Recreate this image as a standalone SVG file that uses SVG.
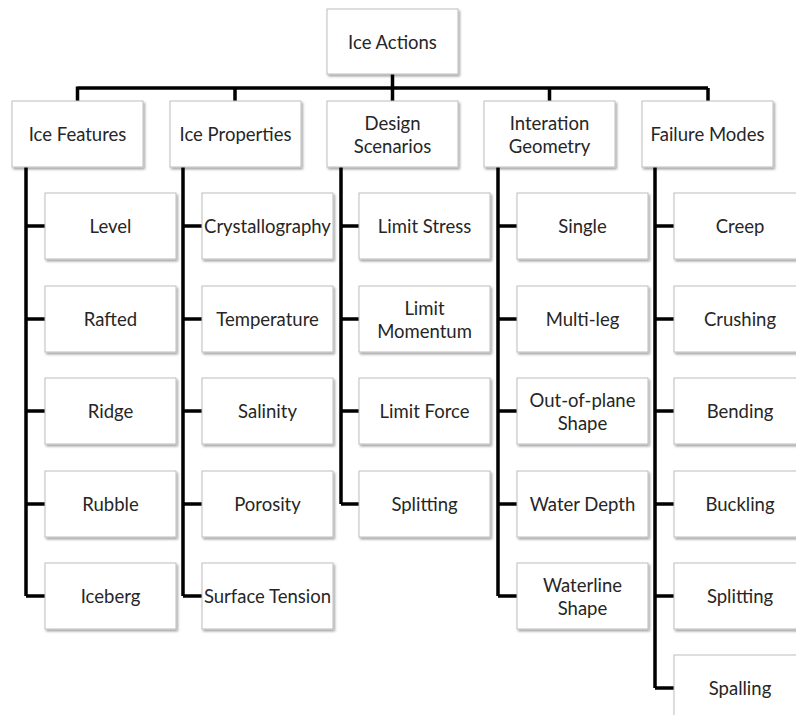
<svg xmlns="http://www.w3.org/2000/svg" width="796" height="715" viewBox="0 0 796 715">
<defs>
<filter id="sh" x="-10%" y="-10%" width="130%" height="140%">
<feDropShadow dx="1.5" dy="2" stdDeviation="1.2" flood-color="#000" flood-opacity="0.35"/>
</filter>
<style>
.b{fill:#fff;stroke:#bdbdbd;stroke-width:1;filter:url(#sh)}
.t{font-family:Lato,"Open Sans","Liberation Sans",sans-serif;font-size:18.5px;fill:#262626;text-anchor:middle;dominant-baseline:central}
.c{stroke:#000;stroke-width:3.5;fill:none}
</style>
</defs>
<rect width="796" height="715" fill="#fff"/>
<g id="connectors">
<path class="c" d="M392.5 74V88M77.5 88H708M77.5 86.5V101M235 88V101M392.5 88V101M549.5 88V101M708 88V101"/>
<path class="c" d="M26 167V596M26 226H45M26 319H45M26 411H45M26 504H45M26 596H45"/>
<path class="c" d="M183 167V596M183 226H202M183 319H202M183 411H202M183 504H202M183 596H202"/>
<path class="c" d="M341 167V504M341 226H359M341 319H359M341 411H359M341 504H359"/>
<path class="c" d="M498 167V596M498 226H517M498 319H517M498 411H517M498 504H517M498 596H517"/>
<path class="c" d="M655 167V688M655 226H674M655 319H674M655 411H674M655 504H674M655 596H674M655 688H674"/>
</g>
<g id="root"><rect class="b" x="327" y="9" width="131" height="65"/><text class="t" x="392.5" y="41.5">Ice Actions</text></g>
<g id="ice-features"><rect class="b" x="12" y="101" width="131" height="66"/><text class="t" x="77.5" y="134">Ice Features</text></g>
<g id="ice-properties"><rect class="b" x="170" y="101" width="131" height="66"/><text class="t" x="235.5" y="134">Ice Properties</text></g>
<g id="design-scenarios"><rect class="b" x="327" y="101" width="131" height="66"/><text class="t" x="392.5" y="123">Design</text><text class="t" x="392.5" y="145.5">Scenarios</text></g>
<g id="interation-geometry"><rect class="b" x="484" y="101" width="131" height="66"/><text class="t" x="549.5" y="123">Interation</text><text class="t" x="549.5" y="145.5">Geometry</text></g>
<g id="failure-modes"><rect class="b" x="642" y="101" width="131" height="66"/><text class="t" x="707.5" y="134">Failure Modes</text></g>

<g id="level"><rect class="b" x="45" y="193" width="131" height="66"/><text class="t" x="110.5" y="226">Level</text></g>
<g id="rafted"><rect class="b" x="45" y="286" width="131" height="66"/><text class="t" x="110.5" y="319">Rafted</text></g>
<g id="ridge"><rect class="b" x="45" y="378" width="131" height="66"/><text class="t" x="110.5" y="411">Ridge</text></g>
<g id="rubble"><rect class="b" x="45" y="471" width="131" height="66"/><text class="t" x="110.5" y="504">Rubble</text></g>
<g id="iceberg"><rect class="b" x="45" y="563" width="131" height="66"/><text class="t" x="110.5" y="596">Iceberg</text></g>

<g id="crystallography"><rect class="b" x="202" y="193" width="131" height="66"/><text class="t" x="267.5" y="226">Crystallography</text></g>
<g id="temperature"><rect class="b" x="202" y="286" width="131" height="66"/><text class="t" x="267.5" y="319">Temperature</text></g>
<g id="salinity"><rect class="b" x="202" y="378" width="131" height="66"/><text class="t" x="267.5" y="411">Salinity</text></g>
<g id="porosity"><rect class="b" x="202" y="471" width="131" height="66"/><text class="t" x="267.5" y="504">Porosity</text></g>
<g id="surface-tension"><rect class="b" x="202" y="563" width="131" height="66"/><text class="t" x="267.5" y="596">Surface Tension</text></g>

<g id="limit-stress"><rect class="b" x="359" y="193" width="131" height="66"/><text class="t" x="424.5" y="226">Limit Stress</text></g>
<g id="limit-momentum"><rect class="b" x="359" y="286" width="131" height="66"/><text class="t" x="424.5" y="308">Limit</text><text class="t" x="424.5" y="330.5">Momentum</text></g>
<g id="limit-force"><rect class="b" x="359" y="378" width="131" height="66"/><text class="t" x="424.5" y="411">Limit Force</text></g>
<g id="splitting-ds"><rect class="b" x="359" y="471" width="131" height="66"/><text class="t" x="424.5" y="504">Splitting</text></g>

<g id="single"><rect class="b" x="517" y="193" width="131" height="66"/><text class="t" x="582.5" y="226">Single</text></g>
<g id="multi-leg"><rect class="b" x="517" y="286" width="131" height="66"/><text class="t" x="582.5" y="319">Multi-leg</text></g>
<g id="out-of-plane"><rect class="b" x="517" y="378" width="131" height="66"/><text class="t" x="582.5" y="400">Out-of-plane</text><text class="t" x="582.5" y="422.5">Shape</text></g>
<g id="water-depth"><rect class="b" x="517" y="471" width="131" height="66"/><text class="t" x="582.5" y="504">Water Depth</text></g>
<g id="waterline-shape"><rect class="b" x="517" y="563" width="131" height="66"/><text class="t" x="582.5" y="585">Waterline</text><text class="t" x="582.5" y="607.5">Shape</text></g>

<g id="creep"><rect class="b" x="674" y="193" width="131" height="66"/><text class="t" x="740" y="226">Creep</text></g>
<g id="crushing"><rect class="b" x="674" y="286" width="131" height="66"/><text class="t" x="740" y="319">Crushing</text></g>
<g id="bending"><rect class="b" x="674" y="378" width="131" height="66"/><text class="t" x="740" y="411">Bending</text></g>
<g id="buckling"><rect class="b" x="674" y="471" width="131" height="66"/><text class="t" x="740" y="504">Buckling</text></g>
<g id="splitting-fm"><rect class="b" x="674" y="563" width="131" height="66"/><text class="t" x="740" y="596">Splitting</text></g>
<g id="spalling"><rect class="b" x="674" y="655" width="131" height="66"/><text class="t" x="740" y="688">Spalling</text></g>
</svg>
